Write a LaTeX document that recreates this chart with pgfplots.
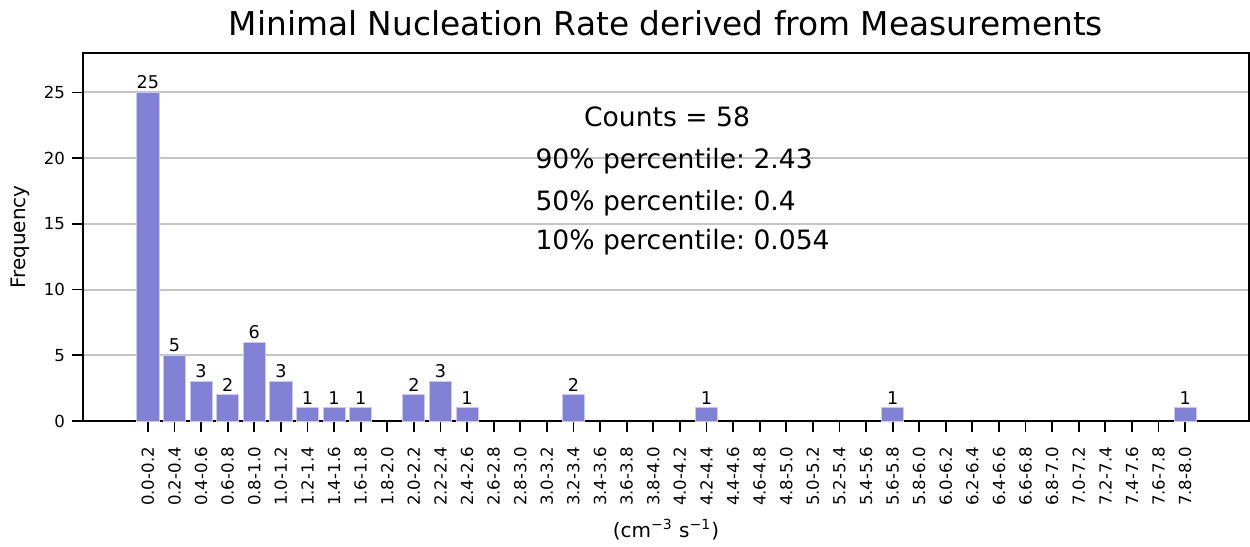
\documentclass[border=0pt]{standalone}
\usepackage{fontspec}
\setmainfont{DejaVu Sans}
\usepackage{pgfplots}
\pgfplotsset{compat=1.18}
\definecolor{barblue}{HTML}{8181D5}
\definecolor{baredge}{HTML}{C9C9F0}
\definecolor{gridgray}{HTML}{C4C4C4}
\frenchspacing

\pgfplotstableread{
x y
0 25
1 5
2 3
3 2
4 6
5 3
6 1
7 1
8 1
10 2
11 3
12 1
16 2
21 1
28 1
39 1
}\hist

\begin{document}
\begin{tikzpicture}
  % invisible frame with the reference proportions (1 px = 0.5pt)
  \path (-41.5pt,-61.5pt) rectangle (583.5pt,210.5pt);
  \begin{axis}[
    at={(0,0)},anchor=south west,
    scale only axis,width=583pt,height=184pt,
    xmin=-2.44,xmax=41.4,ymin=0,ymax=28,
    axis line style={black,line width=0.9pt},
    ytick={0,5,10,15,20,25},
    xtick={0,...,39},
    xticklabels={0.0-0.2,0.2-0.4,0.4-0.6,0.6-0.8,0.8-1.0,1.0-1.2,1.2-1.4,1.4-1.6,1.6-1.8,1.8-2.0,
      2.0-2.2,2.2-2.4,2.4-2.6,2.6-2.8,2.8-3.0,3.0-3.2,3.2-3.4,3.4-3.6,3.6-3.8,3.8-4.0,
      4.0-4.2,4.2-4.4,4.4-4.6,4.6-4.8,4.8-5.0,5.0-5.2,5.2-5.4,5.4-5.6,5.6-5.8,5.8-6.0,
      6.0-6.2,6.2-6.4,6.4-6.6,6.6-6.8,6.8-7.0,7.0-7.2,7.2-7.4,7.4-7.6,7.6-7.8,7.8-8.0},
    xticklabel style={rotate=90,anchor=east,font=\fontsize{8.3}{9}\selectfont},
    xticklabel shift=4pt,
    yticklabel style={font=\fontsize{8.3}{9}\selectfont},
    /pgf/number format/assume math mode=true,
    tick align=outside,
    xtick pos=bottom,ytick pos=left,
    major tick length=5.5pt,
    tick style={black,line width=0.9pt},
    ymajorgrids,grid style={gridgray,line width=1pt},
    ylabel={Frequency},
    ylabel style={font=\fontsize{10}{12}\selectfont},
    xlabel={(cm\textsuperscript{−3} s\textsuperscript{−1})},
    xlabel style={font=\fontsize{10}{12}\selectfont},
    title={Minimal Nucleation Rate derived from Measurements},
    title style={font=\fontsize{16.4}{19}\selectfont,at={(0.5,1)},anchor=base,yshift=3pt},
    ybar,bar width=0.83,
    nodes near coords,
    nodes near coords style={font=\fontsize{8.8}{9}\selectfont,black,inner sep=1.5pt},
  ]
    \addplot[fill=barblue,draw=baredge,line width=0.4pt] table[x=x,y=y] {\hist};
    \node[font=\fontsize{13.3}{15}\selectfont] at (axis cs:19.52,23.17) {Counts = 58};
    \node[font=\fontsize{13.3}{15}\selectfont,anchor=west,inner sep=0pt] at (axis cs:14.56,19.74) {90\% percentile: 2.43};
    \node[font=\fontsize{13.3}{15}\selectfont,anchor=west,inner sep=0pt] at (axis cs:14.56,16.6) {50\% percentile: 0.4};
    \node[font=\fontsize{13.3}{15}\selectfont,anchor=west,inner sep=0pt] at (axis cs:14.56,13.64) {10\% percentile: 0.054};
  \end{axis}
\end{tikzpicture}
\end{document}
